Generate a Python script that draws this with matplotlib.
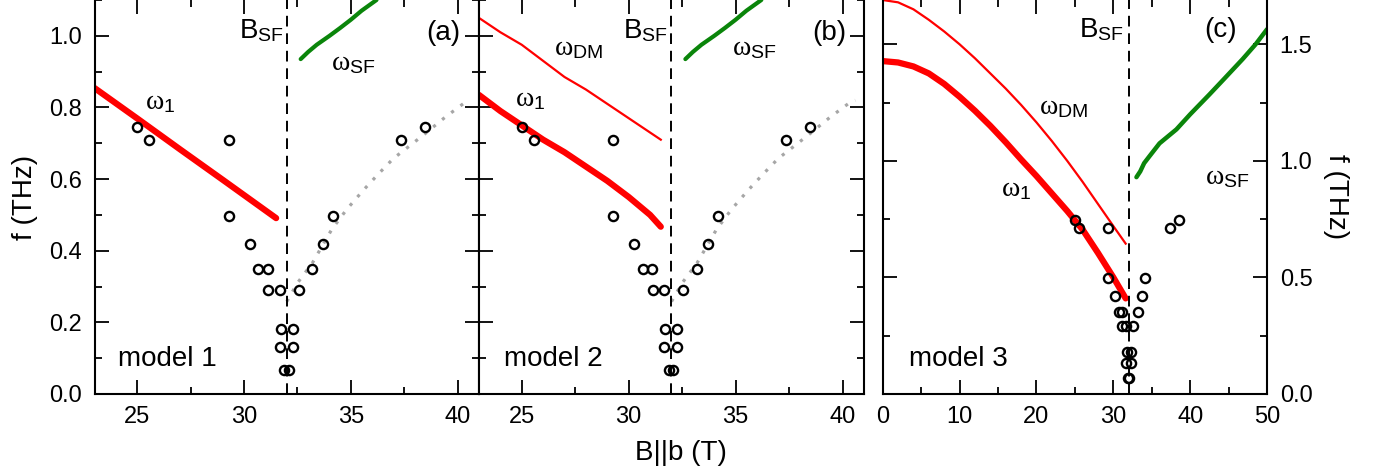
import numpy as np
import matplotlib
matplotlib.use("Agg")
import matplotlib.pyplot as plt
from matplotlib.ticker import MultipleLocator

plt.rcParams['font.family'] = ['Liberation Sans', 'DejaVu Sans']
plt.rcParams['mathtext.fontset'] = 'custom'
plt.rcParams['mathtext.rm'] = 'Liberation Sans'
plt.rcParams['mathtext.it'] = 'Liberation Serif'
plt.rcParams['mathtext.bf'] = 'Liberation Sans:bold'

# measured points (same in all three panels)
b_meas = [25.0, 25.56, 29.28, 29.28, 30.27, 30.67, 31.11, 31.14, 31.66, 32.55, 33.17,
          33.69, 34.17, 37.35, 38.49, 31.71, 32.27, 31.66, 32.27, 31.89, 32.08]
f_meas = [0.746, 0.710, 0.710, 0.497, 0.420, 0.350, 0.350, 0.291, 0.291, 0.291, 0.350,
          0.420, 0.497, 0.710, 0.746, 0.181, 0.181, 0.132, 0.132, 0.067, 0.067]
b_sf = 32.0

# gray dotted guide (panels a, b)
b_gray = [32.0, 32.5, 33.2, 34.1, 34.8, 35.6, 36.3, 37.0, 37.8, 38.5, 39.4, 40.3, 40.6]
f_gray = [0.258, 0.31, 0.366, 0.459, 0.515, 0.570, 0.615, 0.658, 0.695, 0.728, 0.772, 0.812, 0.82]

# spin-flop mode, panels a, b
b_sf_ab = [32.65, 33.0, 33.4, 34.0, 34.5, 35.0, 35.5, 36.2]
f_sf_ab = [0.935, 0.955, 0.975, 1.0, 1.022, 1.045, 1.07, 1.10]

# model 1
b_w1_m1 = [23.0, 25.0, 27.0, 29.0, 31.5]
f_w1_m1 = [0.854, 0.769, 0.683, 0.598, 0.491]

# model 2
b_w1_m2 = [23, 24, 25, 26, 27, 28, 29, 30, 31, 31.5]
f_w1_m2 = [0.835, 0.79, 0.75, 0.71, 0.675, 0.635, 0.595, 0.55, 0.50, 0.467]
b_dm_m2 = [23, 24, 25, 26, 27, 28, 29, 30, 31, 31.5]
f_dm_m2 = [1.05, 1.01, 0.975, 0.93, 0.885, 0.85, 0.81, 0.77, 0.73, 0.71]

# model 3
b_w1_m3 = [0, 2, 4, 6, 8, 10, 12, 14, 16, 18, 20, 22, 24, 26, 28, 30, 31.6]
f_w1_m3 = [1.428, 1.422, 1.405, 1.375, 1.33, 1.275, 1.215, 1.15, 1.08, 1.006, 0.935,
           0.86, 0.785, 0.705, 0.605, 0.50, 0.41]
b_dm_m3 = [0, 2, 4, 6, 8, 10, 12, 14, 16, 18, 20, 22, 24, 26, 28, 30, 31.6]
f_dm_m3 = [1.69, 1.68, 1.65, 1.605, 1.555, 1.50, 1.44, 1.375, 1.31, 1.24, 1.165, 1.085,
           1.0, 0.91, 0.815, 0.72, 0.645]
b_sf_c = [33.0, 33.5, 34.0, 34.7, 36.0, 38.2, 40.0, 42.5, 44.5, 46.8, 48.5, 50.0]
f_sf_c = [0.93, 0.955, 0.99, 1.02, 1.075, 1.135, 1.20, 1.285, 1.355, 1.436, 1.50, 1.565]

RED = '#ff0000'
GREEN = '#0a850a'
GRAY = '#a6a6a6'
FS = 20
TFS = 17

fig = plt.figure(figsize=(13.96, 4.74), dpi=100)
bot, h = 0.1688, 0.8312
ax1 = fig.add_axes([0.0678, bot, 0.2753, h])
ax2 = fig.add_axes([0.3431, bot, 0.2758, h])
ax3 = fig.add_axes([0.6323, bot, 0.2754, h])


def style(ax, xmaj, xmin, ymaj, ymin):
    ax.xaxis.set_major_locator(MultipleLocator(xmaj))
    ax.xaxis.set_minor_locator(MultipleLocator(xmin))
    ax.yaxis.set_major_locator(MultipleLocator(ymaj))
    ax.yaxis.set_minor_locator(MultipleLocator(ymin))
    ax.tick_params(which='both', direction='in', top=True, right=True, width=1.3,
                   labelsize=TFS)
    ax.tick_params(which='major', length=10)
    ax.tick_params(which='minor', length=5)
    ax.tick_params(axis='x', pad=9)
    ax.spines['top'].set_visible(False)
    for s in ['left', 'right', 'bottom']:
        ax.spines[s].set_linewidth(1.5)


def common(ax):
    ax.axvline(b_sf, color='black', lw=1.4, ls=(0, (5.5, 3.5)), zorder=2)
    ax.plot(b_meas, f_meas, 'o', ms=6.6, mfc='none', mec='black', mew=1.7, zorder=5)


for ax in (ax1, ax2):
    style(ax, 5, 2.5, 0.2, 0.1)
    ax.set_xlim(23, 41)
    ax.set_ylim(0, 1.1)
    ax.plot(b_gray, f_gray, color=GRAY, lw=2.3, ls=(0, (1, 2.6)), zorder=1)
    ax.plot(b_sf_ab, f_sf_ab, color=GREEN, lw=3, solid_capstyle='round')
    common(ax)
    ax.text(31.85, 0.995, r'B$_{\mathrm{SF}}$', fontsize=FS, ha='right', va='baseline')

ax1.tick_params(axis='y', pad=9)
ax1.set_ylabel('f (THz)', fontsize=FS, labelpad=8)
ax2.tick_params(axis='y', labelleft=False)

ax1.plot(b_w1_m1, f_w1_m1, color=RED, lw=4.5, solid_capstyle='round')
ax1.text(34.05, 0.905, r'$\omega_{\mathrm{SF}}$', fontsize=FS, va='baseline')
ax1.text(25.35, 0.795, r'$\omega_{1}$', fontsize=FS, va='baseline')
ax1.text(0.952, 0.915, '(a)', fontsize=FS, ha='right', va='center', transform=ax1.transAxes)
ax1.text(0.061, 0.072, 'model 1', fontsize=FS, va='baseline', transform=ax1.transAxes)

ax2.plot(b_w1_m2, f_w1_m2, color=RED, lw=4.5, solid_capstyle='round')
ax2.plot(b_dm_m2, f_dm_m2, color=RED, lw=1.6)
ax2.text(26.5, 0.947, r'$\omega_{\mathrm{DM}}$', fontsize=FS, va='baseline')
ax2.text(34.85, 0.947, r'$\omega_{\mathrm{SF}}$', fontsize=FS, va='baseline')
ax2.text(24.7, 0.803, r'$\omega_{1}$', fontsize=FS, va='baseline')
ax2.text(0.953, 0.915, '(b)', fontsize=FS, ha='right', va='center', transform=ax2.transAxes)
ax2.text(0.065, 0.072, 'model 2', fontsize=FS, va='baseline', transform=ax2.transAxes)

style(ax3, 10, 5, 0.5, 0.25)
ax3.set_xlim(0, 50)
ax3.set_ylim(0, 1.69)
ax3.tick_params(axis='y', labelleft=False, labelright=True, pad=9)
ax3.yaxis.set_label_position('right')
ax3.set_ylabel('f (THz)', fontsize=FS, rotation=270, labelpad=26)
ax3.plot(b_w1_m3, f_w1_m3, color=RED, lw=4.5, solid_capstyle='round')
ax3.plot(b_dm_m3, f_dm_m3, color=RED, lw=1.6)
ax3.plot(b_sf_c, f_sf_c, color=GREEN, lw=3.2, solid_capstyle='round')
common(ax3)
ax3.text(31.4, 1.53, r'B$_{\mathrm{SF}}$', fontsize=FS, ha='right', va='baseline')
ax3.text(20.3, 1.20, r'$\omega_{\mathrm{DM}}$', fontsize=FS, va='baseline')
ax3.text(15.4, 0.849, r'$\omega_{1}$', fontsize=FS, va='baseline')
ax3.text(41.9, 0.899, r'$\omega_{\mathrm{SF}}$', fontsize=FS, va='baseline')
ax3.text(0.922, 0.924, '(c)', fontsize=FS, ha='right', va='center', transform=ax3.transAxes)
ax3.text(0.0675, 0.072, 'model 3', fontsize=FS, va='baseline', transform=ax3.transAxes)

fig.text(0.488, 0.045, 'B||b (T)', fontsize=FS, ha='center', va='center')

fig.savefig('out.png', dpi=100)
